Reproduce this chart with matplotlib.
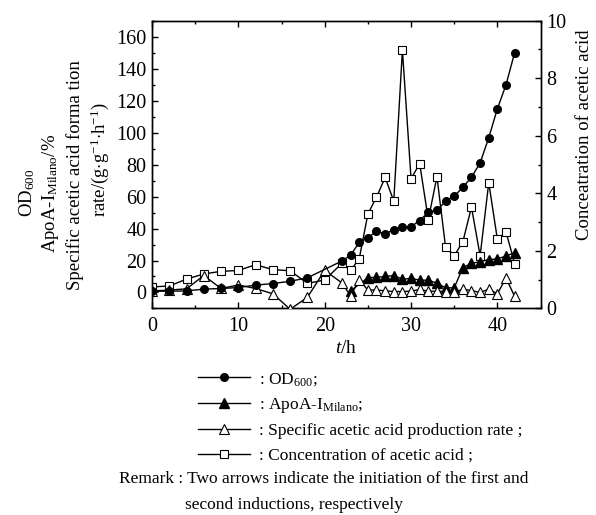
import matplotlib
matplotlib.use("Agg")
import matplotlib.pyplot as plt
from matplotlib.lines import Line2D
from matplotlib.ticker import MultipleLocator

plt.rcParams["font.family"] = ["Liberation Serif", "DejaVu Serif"]
plt.rcParams["mathtext.fontset"] = "custom"
plt.rcParams["mathtext.rm"] = "Liberation Serif"
plt.rcParams["mathtext.it"] = "Liberation Serif:italic"

# OD600 (left axis)
t_od = [0, 2, 4, 6, 8, 10, 12, 14, 16, 18, 22, 23, 24, 25, 26, 27, 28, 29, 30,
        31, 32, 33, 34, 35, 36, 37, 38, 39, 40, 41, 42]
od = [0.8, 0.8, 1.0, 2.1, 2.5, 3.1, 4.6, 5.6, 7.0, 9.2, 19.7, 23.3, 31.3, 34.3,
      38.2, 36.7, 39.3, 40.7, 41.1, 45.0, 50.2, 51.3, 57.1, 60.2, 65.8, 72.1,
      81.0, 96.8, 114.9, 129.9, 150.0]

# ApoA-I Milano (left axis)
t_apo = [23, 25, 26, 27, 28, 29, 30, 31, 32, 33, 34, 35, 36, 37, 38, 39, 40, 41, 42]
apo = [1.0, 9.3, 9.5, 10.0, 10.6, 8.3, 8.8, 7.7, 7.7, 5.9, 2.9, 2.9, 15.6, 18.2,
       19.3, 20.5, 21.0, 22.8, 24.9]

# specific acetic acid production rate (left axis)
t_rate = [0, 2, 4, 6, 8, 10, 12, 14, 16, 18, 20, 22, 23, 24, 25, 26, 27, 28, 29,
          30, 31, 32, 33, 34, 35, 36, 37, 38, 39, 40, 41, 42]
rate = [1.0, 1.5, 2.3, 10.6, 2.5, 4.7, 2.5, -0.8, -10.5, -3.0, 13.8, 6.0, -2.1,
        7.9, 1.5, 1.6, 1.0, 0.6, 0.6, 0.8, 1.9, 0.8, 0.8, 0.6, 0.0, 2.1, 1.2,
        0.0, 2.1, -0.8, 9.1, -2.5]

# concentration of acetic acid (right axis)
t_conc = [0, 2, 4, 6, 8, 10, 12, 14, 16, 18, 20, 22, 23, 24, 25, 26, 27, 28, 29,
          30, 31, 32, 33, 34, 35, 36, 37, 38, 39, 40, 41, 42]
conc = [0.75, 0.78, 1.02, 1.20, 1.29, 1.32, 1.52, 1.35, 1.31, 0.87, 0.99, 1.57,
        1.32, 1.73, 3.28, 3.87, 4.55, 3.73, 8.98, 4.51, 5.03, 3.09, 4.58, 2.13,
        1.83, 2.32, 3.52, 1.83, 4.37, 2.40, 2.66, 1.56]

fig = plt.figure(figsize=(5.96, 5.15), dpi=100)
ax = fig.add_axes([0.255, 0.401, 0.652, 0.559])
ax2 = ax.twinx()

ax.plot(t_od, od, "-o", color="black", lw=1, ms=5.5, zorder=4)
ax.plot(t_apo, apo, "-^", color="black", lw=1, ms=6.5, zorder=3)
ax.plot(t_rate, rate, "-^", color="black", mfc="white", lw=1, ms=7, mew=0.8,
        zorder=3)
ax2.plot(t_conc, conc, "-s", color="black", mfc="white", lw=1, ms=5.5, mew=0.8)

ax.set_xlim(0, 45)
ax.set_ylim(-10, 170)
ax2.set_ylim(0, 10)
ax.set_zorder(ax2.get_zorder() + 1)
ax.patch.set_visible(False)

ax.xaxis.set_major_locator(MultipleLocator(10))
ax.xaxis.set_minor_locator(MultipleLocator(5))
ax.yaxis.set_major_locator(MultipleLocator(20))
ax.yaxis.set_minor_locator(MultipleLocator(10))
ax2.yaxis.set_major_locator(MultipleLocator(2))
ax2.yaxis.set_minor_locator(MultipleLocator(1))
ax.set_yticks(range(0, 161, 20))

for a in (ax, ax2):
    a.tick_params(which="both", direction="in", labelsize=14.5, width=1, pad=4)
    a.tick_params(which="major", length=4)
    a.tick_params(which="minor", length=2.5)
    for s in a.spines.values():
        s.set_linewidth(1)
ax.tick_params(which="both", top=True)
ax.tick_params(axis="x", pad=6)

ax.set_xlabel("$t$/h", fontsize=14, labelpad=3)

# left axis label, one line each
fig.text(0.045, 0.625, "OD$_{600}$", rotation=90, ha="center", va="center", fontsize=13.5)
fig.text(0.084, 0.625, "ApoA-I$_{\\mathrm{Milano}}$/%", rotation=90, ha="center",
         va="center", fontsize=13.5)
fig.text(0.126, 0.66, "Specific acetic acid forma tion", rotation=90, ha="center",
         va="center", fontsize=13.5)
fig.text(0.168, 0.689, "rate/(g$\\cdot$g$^{-1}$$\\cdot$h$^{-1}$)", rotation=90,
         ha="center", va="center", fontsize=13.5)
fig.text(0.9815, 0.738, "Conceatration of acetic acid", rotation=90, ha="center",
         va="center", fontsize=13.5)

# legend
handles = [
    Line2D([], [], color="black", lw=1, marker="o", ms=5.5),
    Line2D([], [], color="black", lw=1, marker="^", ms=7),
    Line2D([], [], color="black", lw=1, marker="^", ms=7.5, mfc="white", mew=0.8),
    Line2D([], [], color="black", lw=1, marker="s", ms=5.5, mfc="white", mew=0.8),
]
labels = [": OD$_{600}$;", ": ApoA-I$_{\\mathrm{Milano}}$;",
          ": Specific acetic acid production rate ;",
          ": Concentration of acetic acid ;"]
fig.legend(handles, labels, loc="upper left", bbox_to_anchor=(0.318, 0.297),
           frameon=False, fontsize=12.5, handlelength=3.0, handletextpad=0.5,
           labelspacing=0.48, borderpad=0)

fig.text(0.2, 0.07, "Remark : Two arrows indicate the initiation of the first and",
         ha="left", va="center", fontsize=12.5)
fig.text(0.31, 0.02, "second inductions, respectively", ha="left", va="center",
         fontsize=12.5)

fig.savefig("out.png", dpi=100)
